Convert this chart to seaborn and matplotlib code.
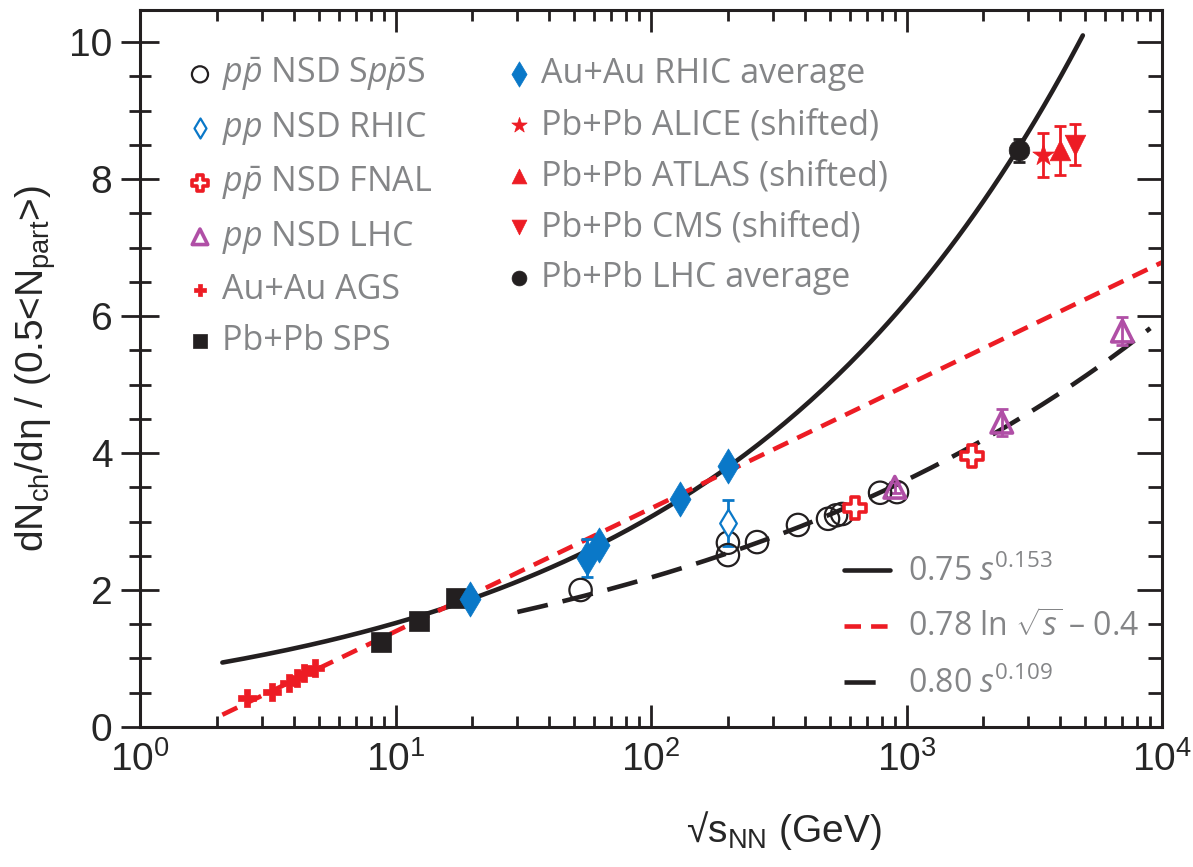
import numpy as np
import matplotlib
matplotlib.use("Agg")
import matplotlib.pyplot as plt
import seaborn as sns

# --- data ---
ags_x = [2.63, 3.28, 3.84, 4.12, 4.38, 4.84]
ags_y = [0.42, 0.51, 0.64, 0.71, 0.79, 0.86]

sps_x = [8.77, 12.3, 17.3]
sps_y = [1.24, 1.55, 1.88]

rhic_x = [19.6, 56, 62.4, 130, 200]
rhic_y = [1.87, 2.47, 2.66, 3.33, 3.81]
rhic_err = [0.0, 0.28, 0.0, 0.0, 0.0]

pp_rhic_x = [200]
pp_rhic_y = [2.98]
pp_rhic_err = [0.33]

sppbar_x = [53, 200, 200, 260, 376, 493, 530, 560, 788, 918]
sppbar_y = [2.00, 2.51, 2.69, 2.70, 2.95, 3.04, 3.09, 3.11, 3.42, 3.43]

fnal_x = [630, 1800]
fnal_y = [3.20, 3.95]

pp_lhc_x = [900, 2360, 7000]
pp_lhc_y = [3.50, 4.45, 5.78]
pp_lhc_err = [0.08, 0.2, 0.2]

pb_lhc_x = [2760]
pb_lhc_y = [8.42]
pb_lhc_err = [0.17]

alice_x, alice_y, alice_err = [3420], [8.35], [0.32]
atlas_x, atlas_y, atlas_err = [3990], [8.42], [0.36]
cms_x, cms_y, cms_err = [4560], [8.50], [0.30]

# fit curves (functions given in the legend)
fit1_x = np.logspace(np.log10(2.1), np.log10(4900), 200)
fit2_x = np.logspace(np.log10(2.1), 4, 200)
fit3_x = np.logspace(np.log10(30), np.log10(9000), 200)
fit1_y = 0.75 * (fit1_x ** 2) ** 0.153
fit2_y = 0.78 * np.log(fit2_x) - 0.4
fit3_y = 0.80 * (fit3_x ** 2) ** 0.109

BLACK = "#231f20"
RED = "#ed1c24"
BLUE = "#0a78c8"
PURPLE = "#b04fa6"
GRAY = "#848587"

sns.set_theme(style="ticks")
plt.rcParams["font.family"] = ["Liberation Sans", "DejaVu Sans"]
plt.rcParams["mathtext.fontset"] = "custom"
plt.rcParams["mathtext.rm"] = "Liberation Sans"
plt.rcParams["mathtext.it"] = "Open Sans:italic"
plt.rcParams["mathtext.sf"] = "Open Sans"

fig = plt.figure(figsize=(11.93, 8.67), dpi=100)
ax = fig.add_axes([0.1174, 0.1615, 0.8566, 0.827])

# fits
sns.lineplot(x=fit1_x, y=fit1_y, ax=ax, color=BLACK, lw=3.3, zorder=2,
             label=r"0.75 $\mathit{s}^{\mathsf{0.153}}$")
sns.lineplot(x=fit2_x, y=fit2_y, ax=ax, color=RED, lw=3.3, zorder=2,
             dashes=(3.6, 2.2), label=r"0.78 ln $\sqrt{\mathit{s}}$ – 0.4")
sns.lineplot(x=fit3_x, y=fit3_y, ax=ax, color=BLACK, lw=3.3, zorder=2,
             dashes=(6.8, 3.3), label=r"0.80 $\mathit{s}^{\mathsf{0.109}}$")

# error bars
for ex, ey, ee, c in [(rhic_x, rhic_y, rhic_err, BLUE),
                      (pp_rhic_x, pp_rhic_y, pp_rhic_err, BLUE),
                      (pp_lhc_x, pp_lhc_y, pp_lhc_err, PURPLE),
                      (pb_lhc_x, pb_lhc_y, pb_lhc_err, BLACK),
                      (alice_x, alice_y, alice_err, RED),
                      (atlas_x, atlas_y, atlas_err, RED),
                      (cms_x, cms_y, cms_err, RED)]:
    ax.errorbar(ex, ey, yerr=ee, fmt="none", ecolor=c, elinewidth=2,
                capsize=4, capthick=2, zorder=3)

# markers
sns.scatterplot(x=sppbar_x, y=sppbar_y, ax=ax, marker="o", s=260,
                facecolor="none", edgecolor=BLACK, linewidth=1.6, zorder=4,
                label=r"$\mathit{p\bar{p}}$ NSD S$\mathit{p\bar{p}}$S")
sns.scatterplot(x=pp_rhic_x, y=pp_rhic_y, ax=ax, marker="d", s=200,
                facecolor="white", edgecolor=BLUE, linewidth=1.6, zorder=4,
                label=r"$\mathit{pp}$ NSD RHIC")
sns.scatterplot(x=fnal_x, y=fnal_y, ax=ax, marker="P", s=260,
                facecolor="white", edgecolor=RED, linewidth=2.6, zorder=4,
                label=r"$\mathit{p\bar{p}}$ NSD FNAL")
sns.scatterplot(x=pp_lhc_x, y=pp_lhc_y, ax=ax, marker="^", s=240,
                facecolor="none", edgecolor=PURPLE, linewidth=2.6, zorder=4,
                label=r"$\mathit{pp}$ NSD LHC")
sns.scatterplot(x=ags_x, y=ags_y, ax=ax, marker="P", s=150,
                color=RED, edgecolor=RED, linewidth=0.5, zorder=4,
                label="Au+Au AGS")
sns.scatterplot(x=sps_x, y=sps_y, ax=ax, marker="s", s=200,
                color=BLACK, edgecolor=BLACK, linewidth=0.5, zorder=4,
                label="Pb+Pb SPS")
sns.scatterplot(x=rhic_x, y=rhic_y, ax=ax, marker="d", s=320,
                color=BLUE, edgecolor=BLUE, linewidth=0.5, zorder=4,
                label="Au+Au RHIC average")
sns.scatterplot(x=alice_x, y=alice_y, ax=ax, marker="*", s=260,
                color=RED, edgecolor=RED, linewidth=0.5, zorder=4,
                label="Pb+Pb ALICE (shifted)")
sns.scatterplot(x=atlas_x, y=atlas_y, ax=ax, marker="^", s=220,
                color=RED, edgecolor=RED, linewidth=0.5, zorder=4,
                label="Pb+Pb ATLAS (shifted)")
sns.scatterplot(x=cms_x, y=cms_y, ax=ax, marker="v", s=220,
                color=RED, edgecolor=RED, linewidth=0.5, zorder=4,
                label="Pb+Pb CMS (shifted)")
sns.scatterplot(x=pb_lhc_x, y=pb_lhc_y, ax=ax, marker="o", s=220,
                color=BLACK, edgecolor=BLACK, linewidth=0.5, zorder=4,
                label="Pb+Pb LHC average")

ax.set_xscale("log")
ax.set_xlim(1, 1e4)
ax.set_ylim(0, 10.47)
ax.set_yticks([0, 2, 4, 6, 8, 10])
ax.set_yticks(np.arange(0, 10.5, 0.5), minor=True)

for sp in ax.spines.values():
    sp.set_linewidth(2.2)
    sp.set_color(BLACK)
ax.tick_params(axis="x", which="both", direction="in", top=True, width=2,
               color=BLACK, labelsize=28, pad=10)
ax.tick_params(axis="x", which="major", length=16)
ax.tick_params(axis="x", which="minor", length=8)
ax.tick_params(axis="y", which="both", direction="inout", width=2,
               color=BLACK, labelsize=28, pad=6)
ax.tick_params(axis="y", which="major", length=28)
ax.tick_params(axis="y", which="minor", length=16)

rax = ax.twinx()
rax.set_ylim(ax.get_ylim())
rax.set_yticks([0, 2, 4, 6, 8, 10])
rax.set_yticks(np.arange(0, 10.5, 0.5), minor=True)
rax.tick_params(axis="y", which="both", direction="in", width=2, color=BLACK,
                labelright=False)
rax.tick_params(axis="y", which="major", length=18)
rax.tick_params(axis="y", which="minor", length=10)
for sp in rax.spines.values():
    sp.set_visible(False)

ax.set_ylabel("dN$_{\\rm ch}$/dη / (0.5<N$_{\\rm part}$>)", fontsize=28, labelpad=8)
ax.set_xlabel("√s$_{\\rm NN}$ (GeV)", fontsize=28)
ax.xaxis.set_label_coords(0.63, -0.115)

handles, labels = ax.get_legend_handles_labels()
fit_h, fit_l = handles[:3], labels[:3]
pt_h, pt_l = handles[3:], labels[3:]

leg1 = ax.legend(pt_h, pt_l, ncol=2, loc="upper left", bbox_to_anchor=(0.032, 0.955),
                 frameon=False, labelspacing=0.5, handlelength=0.8, markerscale=0.72,
                 handletextpad=0.25, columnspacing=2.15, borderaxespad=0,
                 prop={"family": "Open Sans", "size": 24.5})
for t in leg1.get_texts():
    t.set_color(GRAY)
ax.add_artist(leg1)

leg2 = ax.legend(fit_h, fit_l, loc="lower right", bbox_to_anchor=(0.99, 0.018),
                 frameon=False, labelspacing=0.72, handlelength=1.45,
                 handletextpad=0.55, borderaxespad=0,
                 prop={"family": "Open Sans", "size": 23})
for t in leg2.get_texts():
    t.set_color(GRAY)

fig.savefig("out.png", dpi=100)
